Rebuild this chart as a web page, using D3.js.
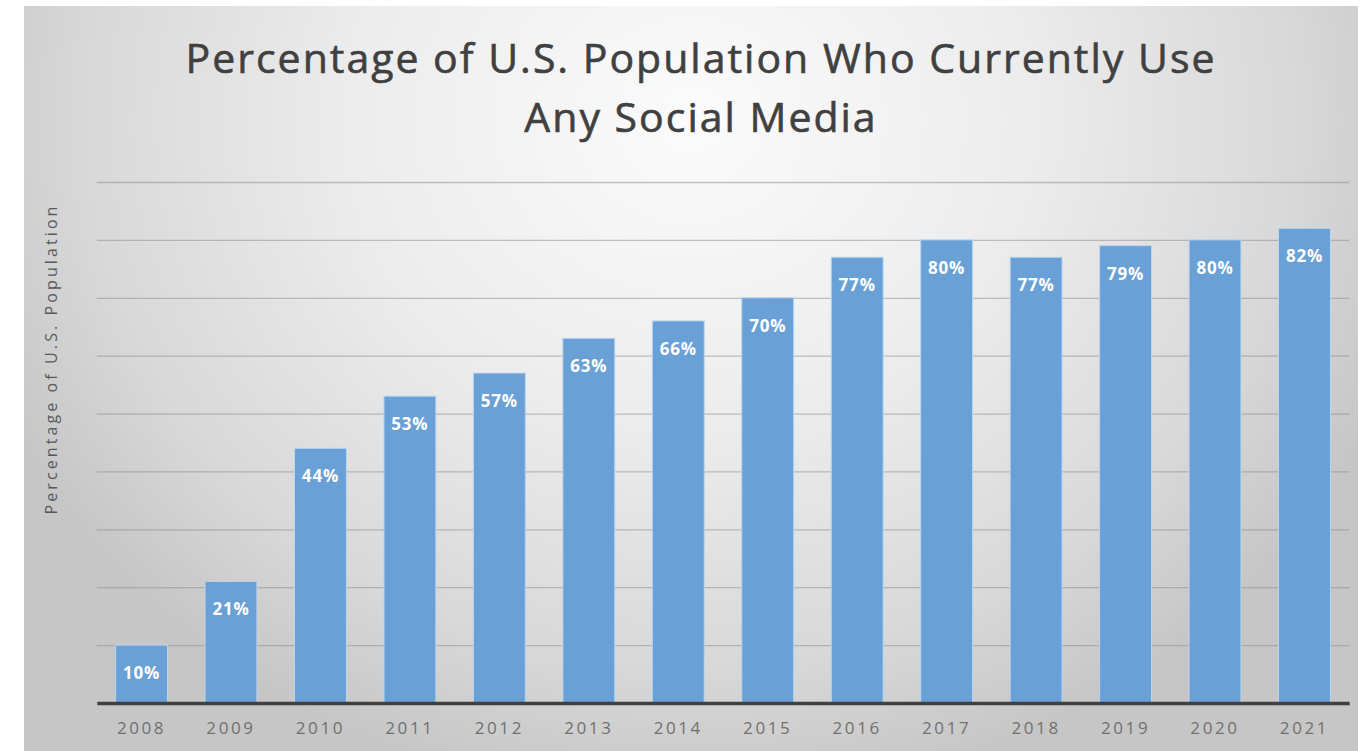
<!DOCTYPE html>
<html>
<head>
<meta charset="utf-8">
<script src="https://cdn.jsdelivr.net/npm/d3@7"></script>
<style>
  html, body { margin: 0; padding: 0; background: #ffffff; }
  svg { display: block; }
</style>
</head>
<body>
<svg id="chart" width="1371" height="751"></svg>
<script>
// Share of the U.S. population using any social media, by year
const years = ["2008","2009","2010","2011","2012","2013","2014","2015","2016","2017","2018","2019","2020","2021"];
const usage = [10, 21, 44, 53, 57, 63, 66, 70, 77, 80, 77, 79, 80, 82];
const gridValues = [10, 20, 30, 40, 50, 60, 70, 80, 90];
const titleLines = ["Percentage of U.S. Population Who Currently Use", "Any Social Media"];
const yTitle = "Percentage of U.S. Population";

const svg = d3.select("#chart");
const W = 1371, H = 751;

// soft grey backdrop, lighter near the top centre
const defs = svg.append("defs");
const grad = defs.append("radialGradient")
  .attr("id", "bg")
  .attr("gradientUnits", "userSpaceOnUse")
  .attr("cx", 690).attr("cy", 120).attr("r", 760)
  .attr("gradientTransform", "translate(690,120) scale(1,0.9) translate(-690,-120)");
grad.append("stop").attr("offset", "0%").attr("stop-color", "#fbfbfb");
grad.append("stop").attr("offset", "45%").attr("stop-color", "#ececec");
grad.append("stop").attr("offset", "80%").attr("stop-color", "#d8d8d8");
grad.append("stop").attr("offset", "100%").attr("stop-color", "#c6c6c6");

svg.append("rect").attr("width", W).attr("height", H).attr("fill", "#ffffff");
svg.append("rect")
  .attr("x", 24).attr("y", 6)
  .attr("width", 1334).attr("height", H - 6)
  .attr("fill", "url(#bg)");

// scales
const x = d3.scaleBand()
  .domain(years)
  .range([96.8, 1349.2])
  .paddingInner(0.42)
  .paddingOuter(0.21);

const y = d3.scaleLinear()
  .domain([0, 90])
  .range([703, 182]);

// horizontal gridlines
const grid = svg.append("g")
  .attr("transform", `translate(${x.range()[0]},0)`)
  .call(d3.axisLeft(y)
    .tickValues(gridValues)
    .tickSize(-(x.range()[1] - x.range()[0]))
    .tickFormat(""));
grid.select(".domain").remove();
grid.selectAll(".tick line")
  .attr("stroke", "#8a8a8a")
  .attr("stroke-opacity", 0.5)
  .attr("stroke-width", 1.3);

// bars
const barData = years.map((yr, i) => ({ year: yr, value: usage[i] }));
svg.append("g")
  .selectAll("rect")
  .data(barData)
  .join("rect")
  .attr("x", d => x(d.year))
  .attr("y", d => y(d.value))
  .attr("width", x.bandwidth())
  .attr("height", d => y(0) - y(d.value))
  .attr("fill", "#69a0d5")
  .attr("stroke", "#b9d6ef")
  .attr("stroke-width", 1);

// value labels inside the top of each bar
svg.append("g")
  .selectAll("text")
  .data(barData)
  .join("text")
  .attr("x", d => x(d.year) + x.bandwidth() / 2)
  .attr("y", d => y(d.value) + 34)
  .attr("text-anchor", "middle")
  .attr("fill", "#ffffff")
  .attr("font-family", "'Open Sans', Lato, sans-serif")
  .attr("font-weight", "bold")
  .attr("font-size", 17)
  .attr("letter-spacing", 0.8)
  .text(d => d.value + "%");

// category axis along the baseline
const xAxis = svg.append("g")
  .attr("transform", `translate(0,${y(0)})`)
  .call(d3.axisBottom(x).tickSize(0).tickPadding(30).tickSizeOuter(0));
xAxis.select(".domain")
  .attr("stroke", "#404040")
  .attr("stroke-width", 3.5);
xAxis.selectAll(".tick text")
  .attr("fill", "#707070")
  .attr("font-family", "'Open Sans', Lato, sans-serif")
  .attr("font-size", 17)
  .attr("letter-spacing", 2.6)
  .attr("dy", 1);

// vertical axis title
svg.append("text")
  .attr("transform", "translate(57,359) rotate(-90)")
  .attr("text-anchor", "middle")
  .attr("fill", "#595959")
  .attr("font-family", "'Open Sans', Lato, sans-serif")
  .attr("font-size", 16)
  .attr("letter-spacing", 3.1)
  .text(yTitle);

// chart title
svg.append("g")
  .selectAll("text")
  .data(titleLines)
  .join("text")
  .attr("x", 701)
  .attr("y", (d, i) => 73 + i * 59)
  .attr("text-anchor", "middle")
  .attr("fill", "#404040")
  .attr("stroke", "#404040")
  .attr("stroke-width", 0.6)
  .attr("font-family", "'Open Sans', Lato, sans-serif")
  .attr("font-size", 41)
  .attr("letter-spacing", 2)
  .text(d => d);
</script>
</body>
</html>
